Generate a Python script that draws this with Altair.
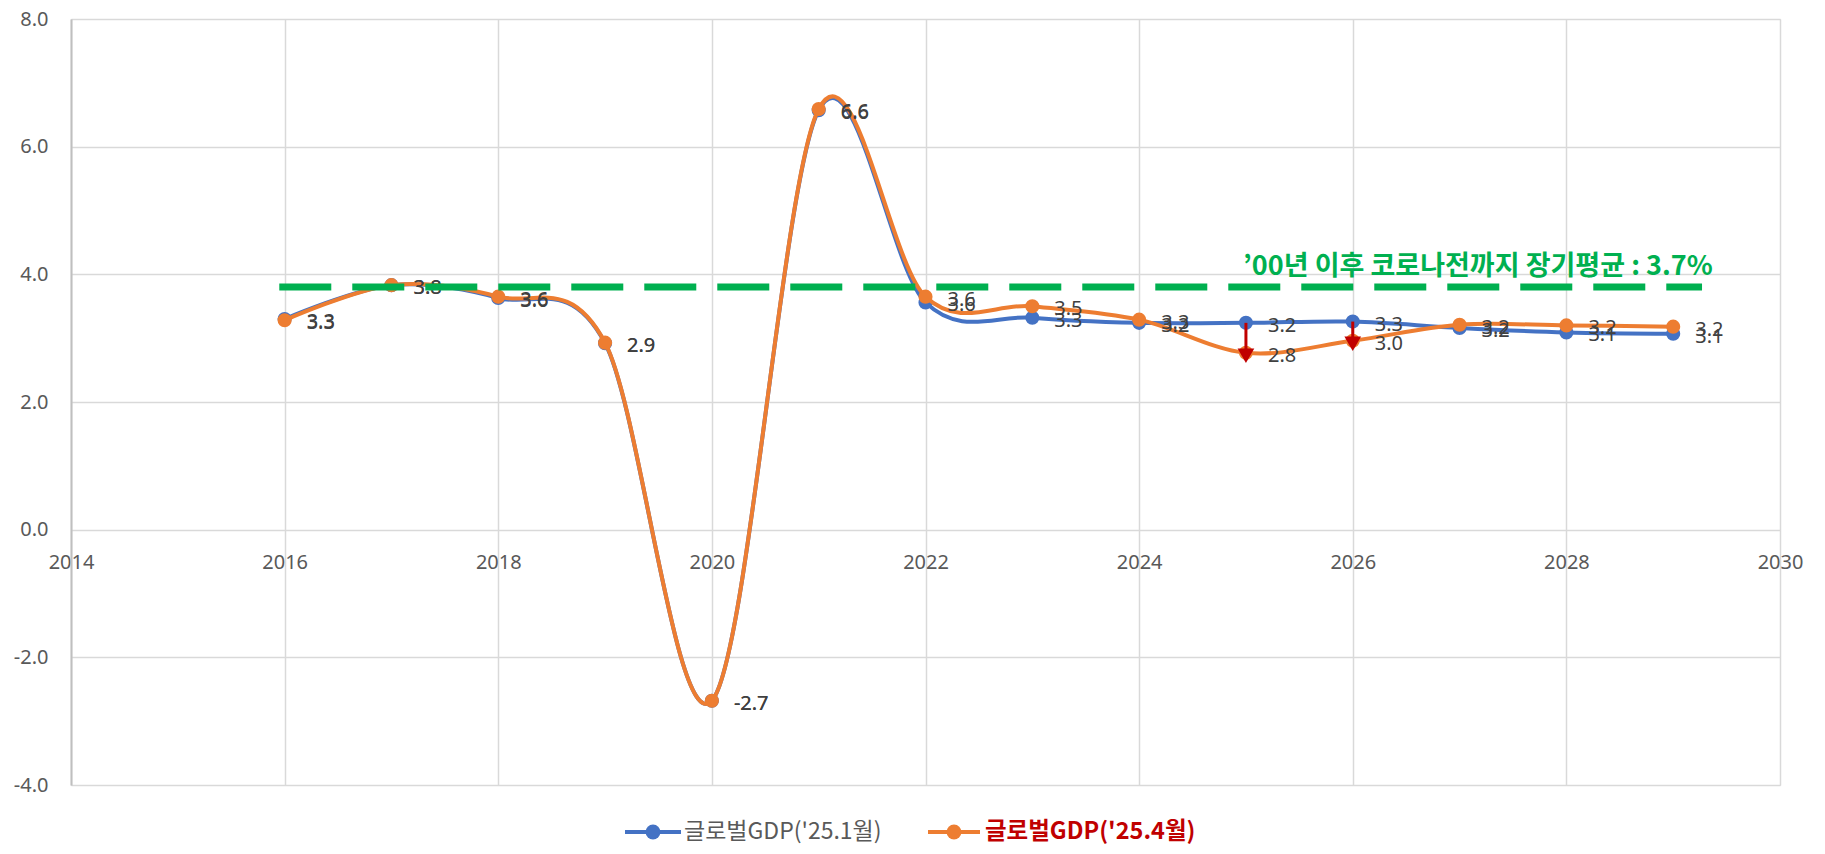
import altair as alt
import pandas as pd

# ---- data ----
years = [2016, 2017, 2018, 2019, 2020, 2021, 2022, 2023, 2024, 2025, 2026, 2027, 2028, 2029]
gdp_jan = [3.30, 3.83, 3.63, 2.92, -2.68, 6.57, 3.56, 3.32, 3.24, 3.24, 3.26, 3.16, 3.09, 3.07]
gdp_apr = [3.28, 3.83, 3.65, 2.93, -2.68, 6.59, 3.65, 3.50, 3.29, 2.77, 2.96, 3.21, 3.20, 3.18]
series_names = ["글로벌GDP('25.1월)", "글로벌GDP('25.4월)"]
arrow_years = [2025, 2026]
avg_line_value = 3.8
avg_line_start, avg_line_end = 2015.95, 2029.27
avg_text = "’00년 이후 코로나전까지 장기평균 : 3.7%"
x_ticks = [2014, 2016, 2018, 2020, 2022, 2024, 2026, 2028, 2030]
y_ticks = [-4, -2, 0, 2, 4, 6, 8]

BLUE = "#4472C4"
ORANGE = "#ED7D31"
GREEN = "#00B050"
RED = "#C00000"
NUM_FONT = "Noto Sans"
KR_FONT = "Noto Sans CJK KR"

W, H = 1709, 766

jan_df = pd.DataFrame({"year": years, "value": gdp_jan})
apr_df = pd.DataFrame({"year": years, "value": gdp_apr})

x_scale = alt.Scale(domain=[2014, 2030], nice=False, zero=False)
y_scale = alt.Scale(domain=[-4, 8], nice=False)

x_enc = alt.X("year:Q", scale=x_scale,
              axis=alt.Axis(values=x_ticks, format="d", title=None, domain=False,
                            ticks=False, tickSize=0, labelPadding=23, offset=-H / 3,
                            labelFont=NUM_FONT, labelFontSize=20, labelColor="#595959",
                            grid=True, gridColor="#D9D9D9", gridWidth=1.5,
                            labelFlush=False))
y_enc = alt.Y("value:Q", scale=y_scale,
              axis=alt.Axis(values=y_ticks, format=".1f", title=None, domain=True,
                            domainColor="#BFBFBF", domainWidth=2,
                            labelExpr="replace(datum.label, '−', '-')",
                            ticks=False, tickSize=0, labelPadding=23,
                            labelFont=NUM_FONT, labelFontSize=20, labelColor="#595959",
                            grid=True, gridColor="#D9D9D9", gridWidth=1.5))


def series_layers(df, color):
    base = alt.Chart(df)
    line = base.mark_line(color=color, strokeWidth=4, interpolate="cardinal", tension=0).encode(x=x_enc, y=y_enc)
    pts = base.mark_point(filled=True, color=color, size=200, opacity=1).encode(x="year:Q", y="value:Q")
    return line, pts


def label_layer(df):
    return alt.Chart(df).transform_calculate(
        lbl="replace(format(datum.value, '.1f'), '−', '-')"
    ).mark_text(align="left", baseline="middle", dx=22, dy=3,
                font=NUM_FONT, fontSize=20, color="#404040").encode(
        x="year:Q", y="value:Q", text="lbl:N")


jan_line, jan_pts = series_layers(jan_df, BLUE)
apr_line, apr_pts = series_layers(apr_df, ORANGE)

avg_df = pd.DataFrame({"x": [avg_line_start], "x2": [avg_line_end], "y": [avg_line_value]})
avg_rule = alt.Chart(avg_df).mark_rule(color=GREEN, strokeWidth=7, strokeDash=[52, 21], strokeCap="butt").encode(
    x="x:Q", x2="x2:Q", y="y:Q")

txt_df = pd.DataFrame({"x": [2029.37], "y": [4.11], "t": [avg_text]})
avg_label = alt.Chart(txt_df).mark_text(align="right", baseline="middle", font=KR_FONT,
                                        fontWeight="bold", fontSize=27, color=GREEN).encode(
    x="x:Q", y="y:Q", text="t:N")

arr_df = pd.DataFrame({
    "year": arrow_years,
    "from": [gdp_jan[years.index(y)] for y in arrow_years],
    "to": [gdp_apr[years.index(y)] for y in arrow_years],
})
arr_rule = alt.Chart(arr_df).mark_rule(color=RED, strokeWidth=3).encode(
    x="year:Q", y="from:Q", y2="to:Q")
arr_head = alt.Chart(arr_df).mark_point(shape="triangle-down", filled=True, color=RED, size=280,
                                        opacity=1, yOffset=3).encode(x="year:Q", y="to:Q")

# ---- manual legend ----
one = pd.DataFrame({"k": [0]})
LY = 813
leg_layers = []
for (x0, x1, tx, color, name, tcolor, weight, fsize) in [
    (554, 610, 613, BLUE, series_names[0], "#595959", "normal", 23),
    (857, 909, 914, ORANGE, series_names[1], RED, "bold", 23.5),
]:
    leg_layers.append(alt.Chart(one).mark_rule(color=color, strokeWidth=4).encode(
        x=alt.value(x0), x2=alt.value(x1), y=alt.value(LY)))
    leg_layers.append(alt.Chart(one).mark_point(filled=True, color=color, size=220, opacity=1).encode(
        x=alt.value((x0 + x1) / 2), y=alt.value(LY)))
    leg_layers.append(alt.Chart(one).mark_text(align="left", baseline="middle", font=KR_FONT,
                                               fontSize=fsize, fontWeight=weight, color=tcolor).encode(
        x=alt.value(tx), y=alt.value(LY), text=alt.value(name)))

chart = alt.layer(
    jan_line, jan_pts, apr_line, apr_pts,
    label_layer(jan_df), label_layer(apr_df),
    avg_rule, arr_rule, arr_head, avg_label,
    *leg_layers,
).properties(
    width=W, height=H,
    autosize=alt.AutoSizeParams(type="none"),
    padding={"left": 63, "top": 11, "right": 37, "bottom": 61},
).configure_view(strokeWidth=0).configure(background="white")

chart.save("out.html", embed_options={"renderer": "svg", "actions": False})
